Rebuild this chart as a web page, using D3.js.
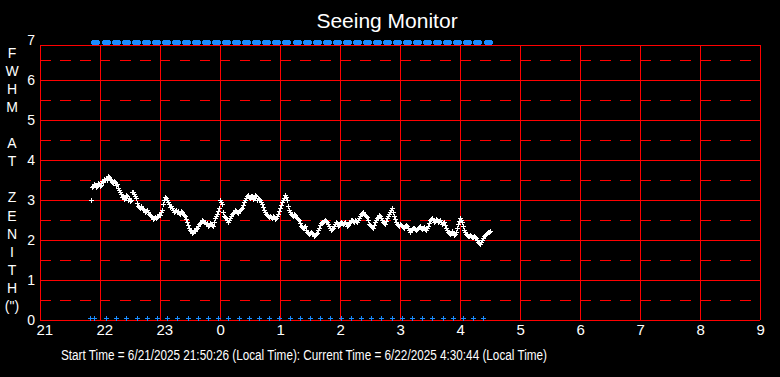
<!DOCTYPE html>
<html>
<head>
<meta charset="utf-8">
<script src="https://cdn.jsdelivr.net/npm/d3@7"></script>
<style>
  body { margin: 0; background: #000; }
  svg { display: block; font-family: "Liberation Sans", Arial, sans-serif; }
</style>
</head>
<body>
<div id="chart"></div>
<script>
// hour labels along the bottom (minutes after 21:00 = index * 60)
const hourLabels = [21, 22, 23, 0, 1, 2, 3, 4, 5, 6, 7, 8, 9];
const yTicks = [0, 1, 2, 3, 4, 5, 6, 7];
const yHalfTicks = [0.5, 1.5, 2.5, 3.5, 4.5, 5.5, 6.5];
const yTitle = ['F', 'W', 'H', 'M', '', 'A', 'T', '', 'Z', 'E', 'N', 'I', 'T', 'H', '(")'];

// seeing samples: [minutes after 21:00, FWHM arcsec]
const seeing = [
  [51, 3.0], [52, 3.32], [53, 3.35], [54, 3.4], [55, 3.38], [56, 3.33], [57, 3.35], [58, 3.42],
  [59, 3.4], [60, 3.36], [61, 3.38], [62, 3.47], [63, 3.45], [64, 3.52], [65, 3.5], [66, 3.55],
  [67, 3.5], [68, 3.6], [69, 3.58], [70, 3.53], [71, 3.5], [72, 3.44], [73, 3.42], [74, 3.48],
  [75, 3.45], [76, 3.38], [77, 3.4], [78, 3.3], [79, 3.25], [80, 3.2], [81, 3.15], [82, 3.08],
  [83, 3.1], [84, 3.02], [85, 3.05], [86, 3.12], [87, 3.1], [88, 3.0], [89, 3.05], [90, 2.98],
  [91, 3.0], [92, 3.2], [93, 3.2], [94, 3.15], [95, 3.1], [96, 3.05], [97, 2.92], [98, 2.85],
  [99, 2.82], [100, 2.8], [101, 2.84], [102, 2.8], [103, 2.77], [104, 2.75], [105, 2.7], [106, 2.72],
  [107, 2.74], [108, 2.7], [109, 2.65], [110, 2.62], [111, 2.6], [112, 2.58], [113, 2.52], [114, 2.55],
  [115, 2.58], [116, 2.55], [117, 2.57], [118, 2.6], [119, 2.65], [120, 2.62], [121, 2.7], [122, 2.75],
  [123, 2.9], [124, 3.0], [125, 3.08], [126, 3.04], [127, 3.0], [128, 2.95], [129, 2.9], [130, 2.82],
  [131, 2.85], [132, 2.8], [133, 2.75], [134, 2.7], [135, 2.72], [136, 2.75], [137, 2.7], [138, 2.72],
  [139, 2.68], [140, 2.66], [141, 2.72], [142, 2.7], [143, 2.65], [144, 2.62], [145, 2.6], [146, 2.52],
  [147, 2.45], [148, 2.38], [149, 2.3], [150, 2.25], [151, 2.22], [152, 2.18], [153, 2.2], [154, 2.24],
  [155, 2.22], [156, 2.27], [157, 2.3], [158, 2.35], [159, 2.4], [160, 2.43], [161, 2.45], [162, 2.5],
  [163, 2.48], [164, 2.46], [165, 2.45], [166, 2.4], [167, 2.42], [168, 2.36], [169, 2.38], [170, 2.42],
  [171, 2.4], [172, 2.38], [173, 2.35], [174, 2.45], [175, 2.55], [176, 2.6], [177, 2.65], [178, 2.72],
  [179, 2.8], [180, 3.0], [181, 2.95], [182, 2.9], [183, 2.7], [184, 2.6], [185, 2.58], [186, 2.55],
  [187, 2.5], [188, 2.45], [189, 2.5], [190, 2.55], [191, 2.6], [192, 2.65], [193, 2.68], [194, 2.7],
  [195, 2.75], [196, 2.72], [197, 2.7], [198, 2.68], [199, 2.72], [200, 2.75], [201, 2.78], [202, 2.8],
  [203, 2.88], [204, 2.95], [205, 3.0], [206, 3.05], [207, 3.1], [208, 3.12], [209, 3.08], [210, 3.05],
  [211, 3.1], [212, 3.1], [213, 3.02], [214, 3.05], [215, 3.12], [216, 3.1], [217, 3.0], [218, 3.05],
  [219, 3.02], [220, 3.0], [221, 2.95], [222, 2.9], [223, 2.82], [224, 2.75], [225, 2.7], [226, 2.65],
  [227, 2.62], [228, 2.6], [229, 2.57], [230, 2.6], [231, 2.58], [232, 2.55], [233, 2.6], [234, 2.58],
  [235, 2.52], [236, 2.55], [237, 2.6], [238, 2.65], [239, 2.72], [240, 2.8], [241, 2.88], [242, 2.95],
  [243, 3.0], [244, 3.05], [245, 3.12], [246, 3.08], [247, 3.0], [248, 2.85], [249, 2.75], [250, 2.7],
  [251, 2.65], [252, 2.62], [253, 2.6], [254, 2.65], [255, 2.62], [256, 2.58], [257, 2.55], [258, 2.52],
  [259, 2.5], [260, 2.42], [261, 2.35], [262, 2.32], [263, 2.3], [264, 2.32], [265, 2.35], [266, 2.25],
  [267, 2.2], [268, 2.18], [269, 2.15], [270, 2.17], [271, 2.2], [272, 2.18], [273, 2.15], [274, 2.1],
  [275, 2.12], [276, 2.15], [277, 2.18], [278, 2.25], [279, 2.3], [280, 2.38], [281, 2.42], [282, 2.44],
  [283, 2.45], [284, 2.48], [285, 2.5], [286, 2.48], [287, 2.45], [288, 2.4], [289, 2.35], [290, 2.3],
  [291, 2.25], [292, 2.27], [293, 2.3], [294, 2.35], [295, 2.4], [296, 2.44], [297, 2.42], [298, 2.36],
  [299, 2.38], [300, 2.42], [301, 2.45], [302, 2.43], [303, 2.4], [304, 2.42], [305, 2.45], [306, 2.4],
  [307, 2.35], [308, 2.38], [309, 2.42], [310, 2.46], [311, 2.5], [312, 2.5], [313, 2.48], [314, 2.46],
  [315, 2.5], [316, 2.47], [317, 2.45], [318, 2.5], [319, 2.55], [320, 2.6], [321, 2.65], [322, 2.68],
  [323, 2.7], [324, 2.66], [325, 2.62], [326, 2.6], [327, 2.58], [328, 2.5], [329, 2.4], [330, 2.37],
  [331, 2.35], [332, 2.32], [333, 2.3], [334, 2.38], [335, 2.45], [336, 2.5], [337, 2.55], [338, 2.58],
  [339, 2.62], [340, 2.6], [341, 2.55], [342, 2.5], [343, 2.45], [344, 2.42], [345, 2.4], [346, 2.48],
  [347, 2.55], [348, 2.6], [349, 2.65], [350, 2.7], [351, 2.75], [352, 2.8], [353, 2.7], [354, 2.6],
  [355, 2.52], [356, 2.45], [357, 2.4], [358, 2.38], [359, 2.36], [360, 2.4], [361, 2.38], [362, 2.35],
  [363, 2.32], [364, 2.3], [365, 2.34], [366, 2.38], [367, 2.34], [368, 2.3], [369, 2.25], [370, 2.2],
  [371, 2.24], [372, 2.28], [373, 2.3], [374, 2.3], [375, 2.28], [376, 2.25], [377, 2.27], [378, 2.3],
  [379, 2.32], [380, 2.35], [381, 2.3], [382, 2.28], [383, 2.3], [384, 2.32], [385, 2.28], [386, 2.25],
  [387, 2.3], [388, 2.35], [389, 2.42], [390, 2.5], [391, 2.53], [392, 2.55], [393, 2.5], [394, 2.45],
  [395, 2.48], [396, 2.52], [397, 2.5], [398, 2.45], [399, 2.48], [400, 2.5], [401, 2.45], [402, 2.4],
  [403, 2.42], [404, 2.45], [405, 2.38], [406, 2.3], [407, 2.25], [408, 2.2], [409, 2.18], [410, 2.15],
  [411, 2.18], [412, 2.22], [413, 2.18], [414, 2.12], [415, 2.15], [416, 2.2], [417, 2.3], [418, 2.4],
  [419, 2.48], [420, 2.55], [421, 2.5], [422, 2.45], [423, 2.35], [424, 2.25], [425, 2.2], [426, 2.15],
  [427, 2.12], [428, 2.1], [429, 2.1], [430, 2.12], [431, 2.1], [432, 2.08], [433, 2.08], [434, 2.1],
  [435, 2.07], [436, 2.05], [437, 2.0], [438, 1.95], [439, 1.92], [440, 1.9], [441, 1.95], [442, 2.0],
  [443, 2.05], [444, 2.1], [445, 2.12], [446, 2.15], [447, 2.18], [448, 2.2], [449, 2.2], [450, 2.22]
];

// blue status markers along the bottom (minutes after 21:00)
const lowMarks = [50, 54, 66, 76, 86, 97, 107, 117, 127, 137, 148, 158, 168, 178, 188, 199, 209, 219,
  229, 239, 250, 260, 270, 280, 290, 301, 311, 321, 331, 341, 352, 362, 372, 382, 392, 403, 413, 423, 433, 443];
// blue markers along the top
const highMarks = [55, 66, 76, 86, 96, 106, 116, 126, 136, 146, 156, 166, 176, 186, 196, 206, 216, 226,
  236, 246, 257, 267, 277, 287, 297, 307, 317, 327, 337, 347, 357, 367, 377, 387, 397, 407, 417, 427, 437, 448];

const titleText = 'Seeing Monitor';
const footerText = 'Start Time = 6/21/2025 21:50:26 (Local Time): Current Time = 6/22/2025 4:30:44 (Local Time)';

const W = 780, H = 377;
const margin = {top: 40, right: 20, bottom: 57, left: 40};
const red = '#ff0000', blue = '#1a8cff';

const x = d3.scaleLinear().domain([0, 720]).range([margin.left, W - margin.right]);
const y = d3.scaleLinear().domain([0, 7]).range([H - margin.bottom, margin.top]);
const frameTop = y(6.875);

const svg = d3.select('#chart').append('svg')
    .attr('width', W).attr('height', H)
    .style('background', '#000');

// grid
const grid = svg.append('g').attr('shape-rendering', 'crispEdges').attr('stroke', red).attr('stroke-width', 1);
grid.selectAll('.half').data(yHalfTicks).enter().append('line')
    .attr('x1', x(0)).attr('x2', x(720))
    .attr('y1', d => y(d)).attr('y2', d => y(d))
    .attr('stroke-dasharray', '10.5,9.5');
grid.selectAll('.whole').data(yTicks.filter(d => d > 0 && d < 7)).enter().append('line')
    .attr('x1', x(0)).attr('x2', x(720))
    .attr('y1', d => y(d)).attr('y2', d => y(d));
grid.selectAll('.vert').data(hourLabels).enter().append('line')
    .attr('x1', (d, i) => x(i * 60)).attr('x2', (d, i) => x(i * 60))
    .attr('y1', frameTop).attr('y2', y(0));
grid.append('line').attr('x1', x(0)).attr('x2', x(720)).attr('y1', frameTop).attr('y2', frameTop);
grid.append('line').attr('x1', x(0)).attr('x2', x(720)).attr('y1', y(0)).attr('y2', y(0));

// axes (labels only)
const xAxis = svg.append('g')
    .attr('transform', 'translate(0,' + y(0) + ')')
    .call(d3.axisBottom(x).tickValues(hourLabels.map((d, i) => i * 60))
        .tickFormat((d, i) => hourLabels[i]).tickSize(0).tickPadding(4));
xAxis.select('.domain').remove();
xAxis.selectAll('text')
    .attr('fill', '#fff').style('font-size', '15px')
    .style('text-anchor', 'start').attr('dx', -4);

const yAxis = svg.append('g')
    .attr('transform', 'translate(' + x(0) + ',0)')
    .call(d3.axisLeft(y).tickValues(yTicks).tickFormat(d3.format('d')).tickSize(0).tickPadding(5));
yAxis.select('.domain').remove();
yAxis.selectAll('text').attr('fill', '#fff').style('font-size', '14px');

// vertical axis title, one letter per line
svg.append('g').selectAll('text').data(yTitle).enter().append('text')
    .attr('x', 12).attr('y', (d, i) => 53 + i * 18.07)
    .attr('dy', '0.35em')
    .attr('text-anchor', 'middle')
    .attr('fill', '#fff')
    .style('font-size', '14px')
    .text(d => d);

// blue markers
const marks = svg.append('g').attr('fill', blue).attr('shape-rendering', 'crispEdges');
marks.selectAll('.low').data(lowMarks).enter().append('path')
    .attr('transform', d => 'translate(' + Math.round(x(d)) + ',' + Math.round(y(0.05)) + ')')
    .attr('d', 'M-2,0h5v1h-5zM0,-2h1v5h-1z');
marks.selectAll('.high').data(highMarks).enter().append('path')
    .attr('transform', d => 'translate(' + Math.round(x(d)) + ',' + Math.round(y(6.95)) + ')')
    .attr('d', 'M-4,-1h9v3h-9zM-3,-2h7v5h-7z');

// seeing samples as white crosses
svg.append('g').attr('stroke', '#fff').attr('stroke-width', 1).attr('fill', 'none')
    .attr('shape-rendering', 'crispEdges')
    .selectAll('path').data(seeing).enter().append('path')
    .attr('transform', d => 'translate(' + Math.round(x(d[0])) + ',' + Math.round(y(d[1])) + ')')
    .attr('d', 'M-2,0.5H3M0.5,-2V3');

// title and footer
svg.append('text')
    .attr('x', 387).attr('y', 28)
    .attr('text-anchor', 'middle')
    .attr('fill', '#fff')
    .style('font-size', '21px')
    .text(titleText);

svg.append('text')
    .attr('x', 61).attr('y', 360)
    .attr('fill', '#fff')
    .style('font-size', '14px')
    .attr('textLength', 486)
    .attr('lengthAdjust', 'spacingAndGlyphs')
    .text(footerText);
</script>
</body>
</html>
